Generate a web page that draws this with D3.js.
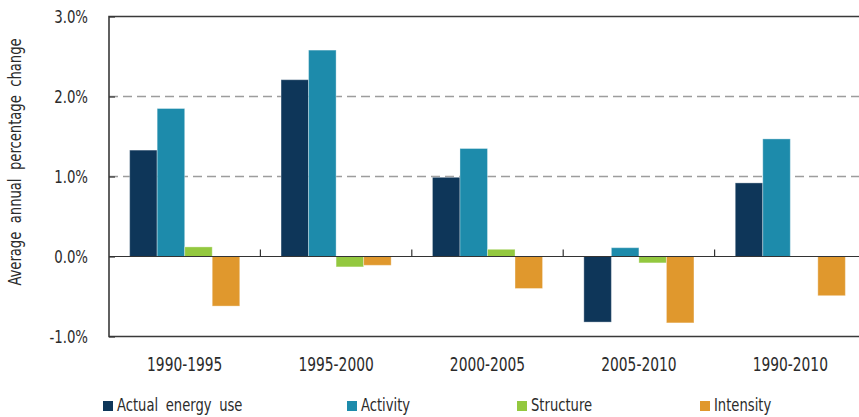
<!DOCTYPE html>
<html>
<head>
<meta charset="utf-8">
<script src="https://cdn.jsdelivr.net/npm/d3@7"></script>
<style>
  html, body { margin: 0; padding: 0; background: #fff; }
  svg { display: block; }
  text { font-family: "Liberation Sans Narrow", "DejaVu Sans Condensed", "Arial Narrow", sans-serif; fill: #2b2b2b; }
</style>
</head>
<body>
<svg id="chart" width="859" height="417"></svg>
<script>
// Decomposition of average annual change in energy use, by period
const categories = ["1990-1995", "1995-2000", "2000-2005", "2005-2010", "1990-2010"];
const seriesNames = ["Actual energy use", "Activity", "Structure", "Intensity"];
const actualEnergyUse = [1.33, 2.21, 0.99, -0.82, 0.92];
const activity = [1.85, 2.58, 1.35, 0.11, 1.47];
const structure = [0.12, -0.13, 0.09, -0.08, 0];
const intensity = [-0.62, -0.11, -0.40, -0.83, -0.49];
const yTicks = [-1, 0, 1, 2, 3];
const yTickLabels = ["-1.0%", "0.0%", "1.0%", "2.0%", "3.0%"];
const colors = ["#0e3659", "#1d8bab", "#93c83f", "#e0982d"];

const seriesValues = [actualEnergyUse, activity, structure, intensity];
const rows = categories.map((c, i) => ({
  category: c,
  values: seriesNames.map((s, k) => ({ series: s, value: seriesValues[k][i] }))
}));

const svg = d3.select("#chart");
const plot = { left: 109, right: 866, top: 16.5, bottom: 336.5 };

const x = d3.scaleBand().domain(categories).range([plot.left, plot.right]).padding(0);
const xs = d3.scaleBand().domain(seriesNames).range([0, x.bandwidth()])
  .paddingInner(0).paddingOuter(0.75);
const y = d3.scaleLinear().domain([-1, 3]).range([plot.bottom, plot.top]);
const color = d3.scaleOrdinal().domain(seriesNames).range(colors);

// dashed gridlines at 1% and 2%
svg.append("g")
  .selectAll("line")
  .data(yTicks.filter(d => d > -1 && d < 3 && d !== 0))
  .join("line")
  .attr("x1", plot.left).attr("x2", plot.right)
  .attr("y1", d => y(d)).attr("y2", d => y(d))
  .attr("stroke", "#9d9d9d").attr("stroke-width", 1.5)
  .attr("stroke-dasharray", "9,5");

// bars
svg.append("g")
  .selectAll("g")
  .data(rows)
  .join("g")
  .attr("transform", d => `translate(${x(d.category)},0)`)
  .selectAll("rect")
  .data(d => d.values.filter(v => v.value !== 0))
  .join("rect")
  .attr("x", d => xs(d.series))
  .attr("width", xs.bandwidth())
  .attr("y", d => y(Math.max(0, d.value)))
  .attr("height", d => Math.abs(y(d.value) - y(0)))
  .attr("fill", d => color(d.series))
  .attr("stroke", "#ffffff").attr("stroke-opacity", 0.35).attr("stroke-width", 1);

// zero line with small category separators
svg.append("line")
  .attr("x1", plot.left).attr("x2", plot.right)
  .attr("y1", y(0)).attr("y2", y(0))
  .attr("stroke", "#333").attr("stroke-width", 1.2);
svg.append("g")
  .selectAll("line")
  .data(categories.slice(1))
  .join("line")
  .attr("x1", d => x(d)).attr("x2", d => x(d))
  .attr("y1", y(0)).attr("y2", y(0) - 7)
  .attr("stroke", "#333").attr("stroke-width", 1.2);

// frame: top, left, bottom
svg.append("path")
  .attr("d", `M${plot.right},${plot.top}H${plot.left}V${plot.bottom}H${plot.right}`)
  .attr("fill", "none").attr("stroke", "#3a3a3a").attr("stroke-width", 1.6);

// y axis (labels compressed horizontally for a condensed look)
const yScaleX = 0.87;
const yAxis = svg.append("g")
  .attr("transform", `translate(${plot.left},0)`)
  .call(d3.axisLeft(y).tickValues(yTicks)
    .tickFormat((d, i) => yTickLabels[i])
    .tickSize(-6).tickPadding(21));
yAxis.select(".domain").remove();
yAxis.selectAll("line").attr("stroke", "#333").attr("stroke-width", 1.2);
yAxis.selectAll("text")
  .attr("font-size", 17).attr("dy", "0.36em")
  .attr("x", -21 / yScaleX)
  .attr("transform", `scale(${yScaleX},1)`)
  .style("font-family", null).attr("fill", "#2b2b2b");

// x axis labels
const xAxis = svg.append("g")
  .attr("transform", `translate(0,${plot.bottom})`)
  .call(d3.axisBottom(x).tickSize(0).tickPadding(21));
xAxis.select(".domain").remove();
xAxis.selectAll("text")
  .attr("font-size", 19.2)
  .attr("transform", "scale(0.8,1)")
  .style("font-family", null).attr("fill", "#2b2b2b");

// y axis title
svg.append("text")
  .attr("transform", "translate(21,162) rotate(-90) scale(0.86,1)")
  .attr("text-anchor", "middle")
  .attr("font-size", 17)
  .attr("word-spacing", 5)
  .text("Average annual percentage change");

// legend
const legendX = [103, 347, 517, 700];
const legend = svg.append("g")
  .selectAll("g")
  .data(seriesNames)
  .join("g")
  .attr("transform", (d, i) => `translate(${legendX[i]},401)`);
legend.append("rect")
  .attr("width", 10).attr("height", 10)
  .attr("fill", d => color(d));
legend.append("text")
  .attr("transform", "translate(14,10) scale(0.86,1)")
  .attr("font-size", 17)
  .attr("word-spacing", 4)
  .text(d => d);
</script>
</body>
</html>
